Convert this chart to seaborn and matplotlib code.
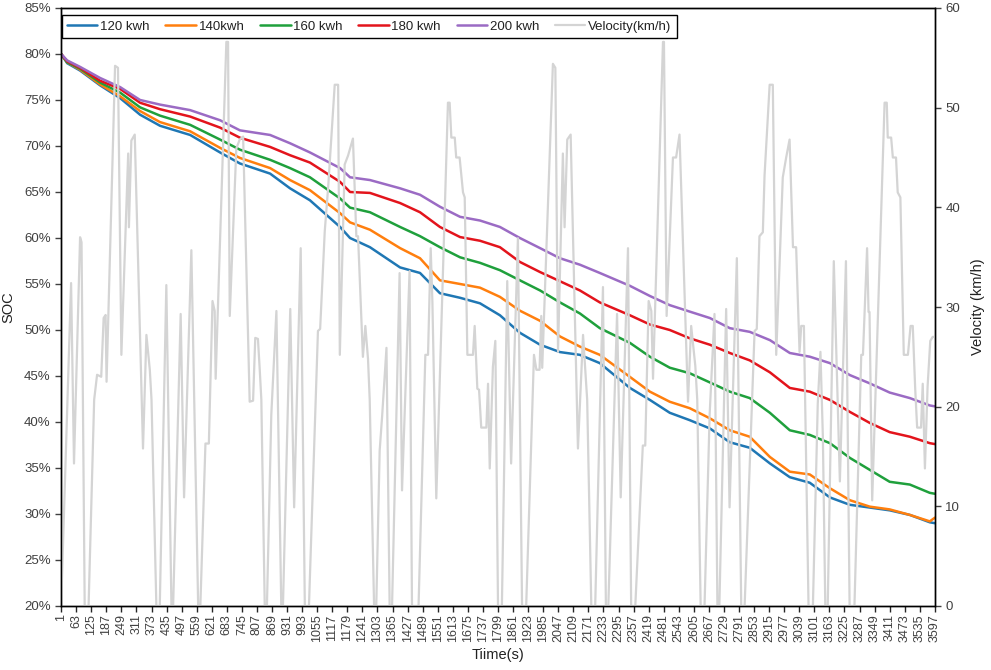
import matplotlib
matplotlib.use("Agg")
import matplotlib.pyplot as plt
import seaborn as sns
import pandas as pd
from matplotlib.ticker import FuncFormatter

sns.set_theme(style="white")
plt.rcParams['font.family'] = ['Liberation Sans', 'DejaVu Sans']

# ---------------- data ----------------
soc_time = [1, 26, 79, 161, 244, 326, 408, 532, 655, 737, 861, 943, 1025, 1149, 1190,
            1272, 1396, 1478, 1560, 1643, 1725, 1807, 1889, 1972, 2054, 2136, 2218,
            2342, 2424, 2506, 2588, 2671, 2753, 2835, 2918, 3000, 3082, 3165, 3247,
            3329, 3411, 3494, 3576, 3597]
soc_120 = [80.0, 79.0, 78.2, 76.6, 75.2, 73.4, 72.2, 71.2, 69.3, 68.1, 67.0, 65.4, 64.1,
           61.2, 60.0, 59.0, 56.8, 56.2, 54.0, 53.5, 52.9, 51.6, 49.7, 48.4, 47.6, 47.3,
           46.4, 43.7, 42.4, 41.0, 40.2, 39.3, 37.8, 37.2, 35.5, 34.0, 33.4, 31.8, 31.0,
           30.7, 30.4, 29.9, 29.1, 29.0]
soc_140 = [80.0, 79.1, 78.3, 76.7, 75.4, 73.8, 72.6, 71.6, 69.8, 68.7, 67.6, 66.3, 65.2,
           62.7, 61.7, 60.9, 58.9, 57.8, 55.4, 55.0, 54.6, 53.6, 52.1, 51.0, 49.3, 48.2,
           47.3, 44.9, 43.3, 42.2, 41.5, 40.4, 39.1, 38.4, 36.2, 34.6, 34.3, 32.8, 31.5,
           30.8, 30.5, 29.9, 29.2, 29.6]
soc_160 = [80.0, 79.1, 78.4, 76.9, 75.8, 74.2, 73.3, 72.3, 70.7, 69.6, 68.5, 67.6, 66.6,
           64.3, 63.3, 62.8, 61.2, 60.2, 59.0, 57.9, 57.3, 56.5, 55.4, 54.3, 53.0, 51.8,
           50.2, 48.6, 47.1, 45.9, 45.3, 44.3, 43.3, 42.6, 41.0, 39.1, 38.6, 37.7, 36.1,
           34.8, 33.5, 33.2, 32.3, 32.2]
soc_180 = [80.0, 79.2, 78.5, 77.1, 76.2, 74.7, 74.0, 73.2, 72.0, 70.9, 69.9, 69.0, 68.2,
           66.1, 65.0, 64.9, 63.8, 62.8, 61.2, 60.1, 59.7, 59.0, 57.4, 56.3, 55.3, 54.3,
           53.0, 51.6, 50.6, 50.0, 49.1, 48.4, 47.5, 46.7, 45.4, 43.7, 43.3, 42.4, 41.1,
           39.9, 38.9, 38.4, 37.7, 37.6]
soc_200 = [80.0, 79.3, 78.6, 77.4, 76.4, 75.0, 74.5, 73.9, 72.8, 71.7, 71.2, 70.3, 69.3,
           67.6, 66.6, 66.3, 65.4, 64.7, 63.4, 62.3, 61.9, 61.2, 60.0, 58.9, 57.8, 57.1,
           56.2, 54.8, 53.7, 52.7, 52.0, 51.3, 50.2, 49.8, 48.9, 47.5, 47.1, 46.4, 45.1,
           44.2, 43.2, 42.6, 41.8, 41.7]

vel_time = [1, 42, 54, 79, 85, 98, 114, 137, 149, 166, 176, 184, 188, 223, 235, 249, 277,
            280, 290, 304, 338, 352, 366, 373, 393, 407, 434, 455, 462, 493, 507, 537,
            565, 574, 595, 609, 624, 633, 637, 681, 688, 695, 722, 736, 750, 777, 791,
            800, 811, 818, 825, 839, 848, 866, 887, 907, 914, 944, 960, 987, 1004, 1021,
            1058, 1067, 1086, 1100, 1127, 1141, 1148, 1168, 1182, 1202, 1216, 1223, 1243,
            1253, 1264, 1271, 1289, 1298, 1312, 1322, 1340, 1353, 1363, 1394, 1404, 1435,
            1445, 1472, 1500, 1511, 1522, 1529, 1545, 1593, 1600, 1607, 1621, 1627, 1641,
            1655, 1662, 1673, 1696, 1703, 1714, 1721, 1730, 1751, 1758, 1765, 1778, 1788,
            1799, 1815, 1837, 1853, 1881, 1898, 1915, 1947, 1957, 1970, 1977, 1981, 2025,
            2035, 2046, 2066, 2073, 2084, 2098, 2128, 2149, 2158, 2166, 2183, 2199, 2231,
            2243, 2253, 2289, 2304, 2334, 2347, 2364, 2395, 2405, 2419, 2430, 2437, 2478,
            2482, 2493, 2519, 2532, 2546, 2581, 2594, 2611, 2619, 2633, 2649, 2670, 2690,
            2702, 2710, 2738, 2752, 2782, 2800, 2814, 2855, 2864, 2875, 2889, 2896, 2917,
            2930, 2944, 2971, 2985, 2999, 3013, 3026, 3040, 3047, 3058, 3063, 3077, 3095,
            3115, 3126, 3136, 3146, 3156, 3181, 3206, 3231, 3246, 3266, 3294, 3301, 3318,
            3324, 3328, 3339, 3390, 3399, 3403, 3417, 3424, 3437, 3444, 3455, 3469, 3486,
            3497, 3506, 3516, 3524, 3540, 3547, 3556, 3567, 3578, 3588, 3597]
vel_kmh = [0, 32.4, 14.3, 37.0, 36.5, 0, 0, 20.7, 23.2, 23.0, 28.9, 29.2, 22.5, 54.2, 54.0,
           25.2, 45.4, 38.0, 46.7, 47.3, 15.8, 27.2, 23.7, 20.7, 0, 0, 32.2, 0, 0, 29.3,
           10.9, 35.7, 0, 0, 16.3, 16.3, 30.6, 29.6, 22.8, 56.6, 56.6, 29.1, 45.9, 46.8,
           47.1, 20.5, 20.6, 26.9, 26.8, 23.9, 20.7, 0, 0, 19.2, 29.6, 0, 0, 29.8, 9.9,
           35.9, 0, 0, 27.6, 27.8, 37.6, 42.0, 52.3, 52.3, 25.2, 44.3, 45.2, 46.9, 37.1,
           37.1, 25.0, 28.1, 24.8, 20.7, 0, 0, 15.6, 19.0, 25.9, 0, 0, 33.4, 11.6, 33.6,
           0, 0, 25.2, 25.2, 35.9, 30.5, 10.8, 50.5, 50.5, 47.0, 47.0, 45.0, 45.0, 41.5,
           41.0, 25.2, 25.2, 28.1, 21.8, 21.7, 17.9, 17.9, 22.3, 13.8, 24.0, 26.6, 0, 0,
           32.6, 14.3, 36.9, 0, 0, 25.2, 23.7, 23.7, 29.1, 23.9, 54.4, 54.0, 25.5, 45.4,
           38.0, 46.8, 47.3, 15.8, 27.2, 23.7, 20.7, 0, 0, 32.0, 0, 0, 29.3, 10.9, 35.9,
           0, 0, 16.1, 16.1, 30.6, 29.6, 22.8, 56.6, 56.6, 29.1, 45.0, 45.0, 47.3, 20.5,
           28.1, 24.1, 20.7, 0, 0, 19.2, 29.3, 0, 0, 29.8, 9.9, 34.9, 0, 0, 27.6, 27.8,
           37.1, 37.5, 43.2, 52.3, 52.3, 25.2, 43.0, 45.0, 46.8, 36.0, 36.0, 25.5, 28.1,
           28.1, 20.7, 0, 0, 20.3, 25.5, 17.0, 0, 0, 34.6, 12.5, 34.6, 0, 0, 25.2, 25.2,
           35.9, 29.5, 29.5, 10.6, 50.5, 50.5, 47.0, 47.0, 45.0, 45.0, 41.5, 41.0, 25.2,
           25.2, 28.1, 28.1, 21.8, 17.9, 17.9, 22.3, 13.8, 22.0, 26.6, 27.0, 27.0]

series_names = ["120 kwh", "140kwh", "160 kwh", "180 kwh", "200 kwh"]
series_values = [soc_120, soc_140, soc_160, soc_180, soc_200]
series_colors = ["#1f77b4", "#ff7f0e", "#1fa03c", "#e3141c", "#9b6bc4"]
x_tick_labels = [str(v) for v in range(1, 3598, 62)]

# ---------------- figure ----------------
fig = plt.figure(figsize=(9.91, 6.70), dpi=100)
ax = fig.add_axes([61 / 991, 1 - 606 / 670, 874 / 991, 598 / 670])
ax2 = ax.twinx()

for name, vals, col in zip(series_names, series_values, series_colors):
    df = pd.DataFrame({"t": soc_time, "soc": vals})
    sns.lineplot(data=df, x="t", y="soc", ax=ax, color=col, linewidth=1.8,
                 label=name, legend=False)

vdf = pd.DataFrame({"t": vel_time, "v": vel_kmh})
sns.lineplot(data=vdf, x="t", y="v", ax=ax2, color="#d4d4d4", linewidth=1.6,
             label="Velocity(km/h)", legend=False)

text_col = "#404040"
ax.set_xlim(0.5, 3597.5)
ax.set_ylim(20, 85)
ax.set_yticks(range(20, 86, 5))
ax.yaxis.set_major_formatter(FuncFormatter(lambda v, p: f"{v:.0f}%"))
ax2.set_ylim(0, 60)
ax2.set_yticks(range(0, 61, 10))

ax.set_xticks([int(s) for s in x_tick_labels])
ax.set_xticklabels(x_tick_labels, rotation=90, fontsize=9, color=text_col)
ax.tick_params(axis="y", labelsize=9.5, colors=text_col, direction="out", length=4,
               width=1, left=True)
ax.tick_params(axis="x", direction="out", length=4, width=1, bottom=True, pad=2)
ax2.tick_params(axis="y", labelsize=9.5, colors=text_col, direction="out", length=4,
                width=1, right=True)
for tl in ax.get_yticklabels():
    tl.set_color(text_col)

ax.set_xlabel("Tiime(s)", fontsize=10.5, color="#222222", labelpad=4)
ax.set_ylabel("SOC", fontsize=10.5, color="#222222", labelpad=6)
ax2.set_ylabel("Velocity (km/h)", fontsize=10.5, color="#222222", labelpad=8)

for a in (ax, ax2):
    for s in a.spines.values():
        s.set_color("black")
        s.set_linewidth(1.0)
        s.set_visible(True)
ax.grid(False)
ax2.grid(False)

h1, l1 = ax.get_legend_handles_labels()
h2, l2 = ax2.get_legend_handles_labels()
if ax.get_legend() is not None:
    ax.get_legend().remove()
leg = ax2.legend(h1 + h2, l1 + l2, ncol=6, loc="upper left",
                 bbox_to_anchor=(0.001, 0.988), frameon=True, fancybox=False,
                 edgecolor="black", framealpha=1, fontsize=9.5, handlelength=2.3,
                 handletextpad=0.2, columnspacing=1.2, borderpad=0.4,
                 borderaxespad=0.0)
leg.get_frame().set_linewidth(1.0)
for t in leg.get_texts():
    t.set_color("#222222")

fig.savefig("out.png", dpi=100)
